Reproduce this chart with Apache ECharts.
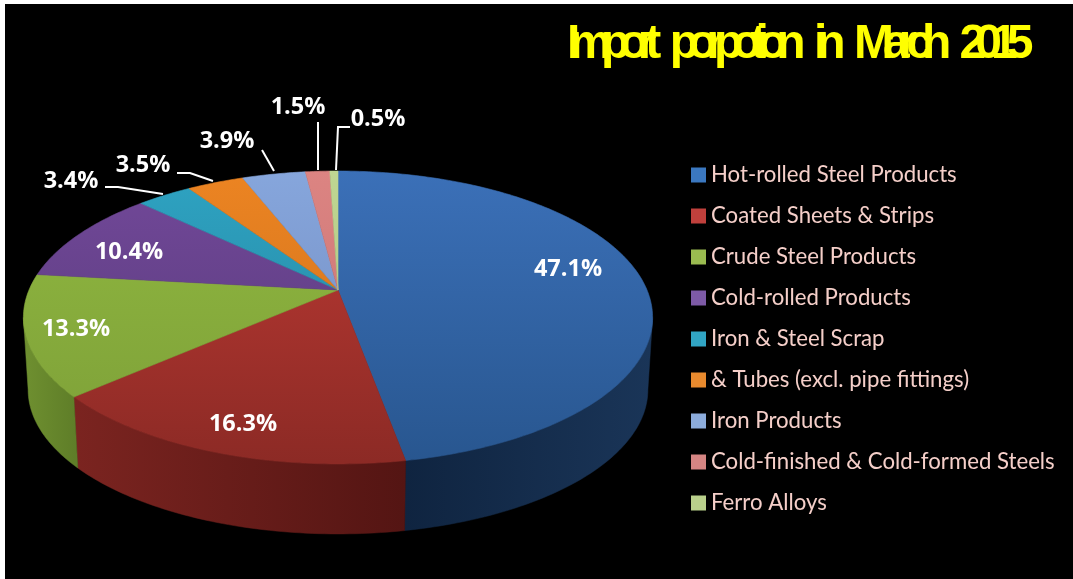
<!DOCTYPE html>
<html>
<head>
<meta charset="utf-8">
<script src="https://cdn.jsdelivr.net/npm/echarts@6/dist/echarts.min.js"></script>
<style>
    html, body { margin: 0; padding: 0; background: #fff; }
    #main { width: 1073px; height: 579px; }
</style>
</head>
<body>
<div id="main"></div>
<script>
// data
const categories = ['Hot-rolled Steel Products', 'Coated Sheets & Strips', 'Crude Steel Products', 'Cold-rolled Products', 'Iron & Steel Scrap', '& Tubes (excl. pipe fittings)', 'Iron Products', 'Cold-finished & Cold-formed Steels', 'Ferro Alloys'];
const shares = [47.1, 16.3, 13.3, 10.4, 3.4, 3.5, 3.9, 1.5, 0.5];
const titleText = 'Import porpotion in March 2015';

// colours: far side of the top face, near side of the top face, wall left and right, legend
const farColors = ['#3b70b8', '#bd3a34', '#90b840', '#724899', '#2ea3c2', '#ec8422', '#86a6dc', '#dc8482', '#bfd692'];
const nearColors = ['#28568f', '#8c2a25', '#7d9f38', '#553a78', '#25809a', '#c96f1c', '#7088bc', '#c47070', '#a8c07c'];
const wallLeft = ['#0f2440', '#7b2420', '#6f9030', '#3d2a58', '#1a5f74', '#96520f', '#50628a', '#8f4f4f', '#7c8f5a'];
const wallRight = ['#1a3558', '#541513', '#5e7d28', '#3d2a58', '#1a5f74', '#96520f', '#50628a', '#8f4f4f', '#7c8f5a'];
const legendColors = ['#3b78c0', '#c0403c', '#9abb50', '#7d5aa6', '#31a5c4', '#e88a2e', '#8cacdc', '#d58583', '#b9d08b'];

// label centres and leader lines, one per slice (null = no leader)
const labelAt = [[568, 269], [243, 424], [76, 329], [129, 252], [71, 181], [143, 165], [227, 141], [298, 107], [378, 119]];
const leaders = [null, null, null, null,
    [[105, 187], [118, 187], [163, 194]],
    [[177, 173], [190, 173], [213, 181]],
    [[262, 150], [274, 171]],
    [[318, 122], [318, 170]],
    [[350, 127], [338, 127], [336, 170]]];

// tilted disc, with some perspective so the near half comes out bigger
const apexX = 338, apexY = 290, discW = 309, discH = 141.3, tilt = 0.1877;
const wallDrop = 72.6, wallShrink = 0.985;
const wallFrom = Math.acos(-tilt), wallTo = 2 * Math.PI - wallFrom;

function topPoint(a) {
    const u = Math.sin(a), v = -Math.cos(a), w = 1 / (1 - tilt * v);
    return [apexX + discW * u * w, apexY + discH * v * w];
}
function bottomPoint(a) {
    const u = Math.sin(a), v = -Math.cos(a), w = 1 / (1 - tilt * v);
    return [apexX + discW * wallShrink * u * w, apexY + wallDrop + discH * wallShrink * v * w];
}
function arc(fn, from, to) {
    const pts = [];
    const n = Math.max(2, Math.ceil((to - from) * 60));
    for (let i = 0; i <= n; i++) {
        pts.push(fn(from + (to - from) * i / n));
    }
    return pts;
}

const total = shares.reduce((s, v) => s + v, 0);

function makeRender(idx) {
    return function (params, api) {
        let before = 0;
        for (let i = 0; i < idx; i++) before += shares[i];
        const start = before / total * 2 * Math.PI;
        const end = start + api.value(0) / total * 2 * Math.PI;
        const children = [];

        // wall, only the part facing us
        const a0 = Math.max(start, wallFrom), a1 = Math.min(end, wallTo);
        if (a1 > a0) {
            const wallFill = new echarts.graphic.LinearGradient(0, 0, 1, 0, [
                { offset: 0, color: wallLeft[idx] },
                { offset: 1, color: wallRight[idx] }
            ]);
            children.push({
                type: 'polygon',
                shape: { points: arc(topPoint, a0, a1).concat(arc(bottomPoint, a0, a1).reverse()) },
                style: { fill: wallFill, stroke: wallFill, lineWidth: 0.5 }
            });
        }

        // top face
        const topFill = new echarts.graphic.LinearGradient(0, 171, 0, 464, [
            { offset: 0, color: farColors[idx] },
            { offset: 1, color: nearColors[idx] }
        ], true);
        children.push({
            type: 'polygon',
            shape: { points: [[apexX, apexY]].concat(arc(topPoint, start, end)) },
            style: { fill: topFill, stroke: topFill, lineWidth: 0.6 }
        });

        if (leaders[idx]) {
            children.push({
                type: 'polyline',
                shape: { points: leaders[idx] },
                style: { fill: null, stroke: '#fff', lineWidth: 2 }
            });
        }
        children.push({
            type: 'text',
            x: labelAt[idx][0],
            y: labelAt[idx][1],
            z2: 10,
            style: {
                text: api.value(0).toFixed(1) + '%',
                fill: '#fff',
                font: 'bold 23.5px "Open Sans"',
                align: 'center',
                verticalAlign: 'middle'
            }
        });
        return { type: 'group', children: children };
    };
}

const chart = echarts.init(document.getElementById('main'));
chart.setOption({
    animation: false,
    backgroundColor: '#fff',
    title: {
        text: titleText,
        left: 567,
        top: 21,
        padding: 0,
        zlevel: 1,
        textStyle: { color: '#ffff00', fontFamily: 'Liberation Sans', fontWeight: 'bold', fontSize: 48 }
    },
    legend: {
        orient: 'vertical',
        left: 691,
        top: 164,
        padding: 0,
        icon: 'rect',
        itemWidth: 15,
        itemHeight: 15,
        itemGap: 19,
        selectedMode: false,
        data: categories,
        textStyle: { color: '#f5cfc9', fontFamily: 'Lato', fontSize: 22.2 }
    },
    graphic: [{
        type: 'rect',
        shape: { x: 5, y: 4, width: 1068, height: 575 },
        style: { fill: '#000' },
        silent: true
    }],
    series: categories.map((name, i) => ({
        type: 'custom',
        name: name,
        coordinateSystem: 'none',
        itemStyle: { color: legendColors[i] },
        data: [[shares[i]]],
        renderItem: makeRender(i),
        silent: true
    }))
});

// the title letters overlap in the original; the library has no letter spacing option,
// so set it on the title's own canvas layer once that layer exists
const zr = chart.getZr();
zr.flush();
const titleCtx = zr.painter.getLayer(1).ctx;
titleCtx.letterSpacing = '-11px';
titleCtx.wordSpacing = '17px';
zr.painter.refresh(true);
</script>
</body>
</html>
